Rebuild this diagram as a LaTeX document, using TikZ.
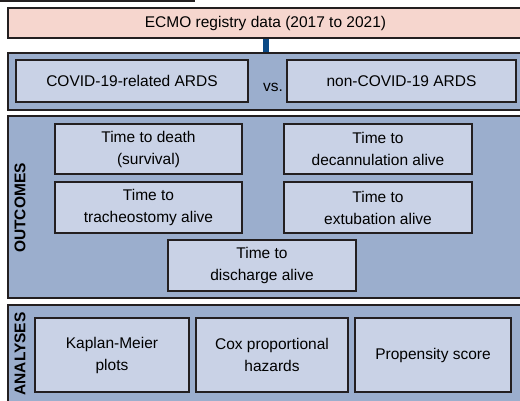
\documentclass[tikz,border=0pt]{standalone}
\usepackage{fontspec}
\setmainfont{Liberation Sans}
\usetikzlibrary{positioning}
\definecolor{pinkfill}{HTML}{F6D6CE}
\definecolor{outerblue}{HTML}{9BAECD}
\definecolor{innerblue}{HTML}{C9D2E6}
\definecolor{edge}{HTML}{231F20}
\definecolor{barblue}{HTML}{0B4A86}

\begin{document}
\begin{tikzpicture}[x=1pt, y=-1pt,
    src/.style={draw=edge, fill=pinkfill, line width=1.5pt, minimum width=515pt, minimum height=30pt, inner sep=0pt},
    outer/.style={draw=edge, fill=outerblue, line width=2pt, minimum width=515pt, inner sep=0pt},
    inner/.style={draw=edge, fill=innerblue, line width=1.5pt, align=center, inner sep=0pt},
    side/.style={rotate=90, font=\fontsize{15.5}{18}\selectfont\bfseries},
    link/.style={draw=barblue, line width=6pt},
    every node/.style={font=\fontsize{15.5}{22}\selectfont}
    ]
\useasboundingbox (0,0) rectangle (520,400);
\clip (0,0) rectangle (520,400);

\draw[edge, line width=1.5pt] (0,1)--(195,1);

\node[src] (ecmo) at (265.5,23) {ECMO registry data (2017 to 2021)};

% groups
\node[outer, minimum height=57pt] (groups) at (265.5,81.5) {};
\node[inner, minimum width=232pt, minimum height=42pt] (covid) at (132,81) {COVID-19-related ARDS};
\node (vs) at (273,87) {vs.};
\node[inner, minimum width=229pt, minimum height=42pt] (noncovid) at (401.5,81) {non-COVID-19 ARDS};

\draw[link] (ecmo.south)--(groups.north);

% outcomes
\node[outer, minimum height=182pt] (outcomes) at (265.5,207) {};
\node[side] (outlabel) at (20,208) {OUTCOMES};
\node[inner, minimum width=187pt, minimum height=50pt] (death) at (148.5,149) {Time to death\\(survival)};
\node[inner, minimum width=187pt, minimum height=51pt] (trach) at (148.5,207.5) {Time to\\tracheostomy alive};
\node[inner, minimum width=188pt, minimum height=50pt] (decann) at (378,149) {Time to\\decannulation alive};
\node[inner, minimum width=188pt, minimum height=51pt] (extub) at (378,207.5) {Time to\\extubation alive};
\node[inner, minimum width=188pt, minimum height=51pt] (discharge) at (262,265.5) {Time to\\discharge alive};

% analyses
\node[outer, minimum height=105pt] (analyses) at (265.5,357.5) {};
\node[side] (analabel) at (20,354) {ANALYSES};
\node[inner, minimum width=154pt, minimum height=74pt] (kaplan) at (112,355) {Kaplan-Meier\\plots};
\node[inner, minimum width=152pt, minimum height=74pt] (cox) at (272,355) {Cox proportional\\hazards};
\node[inner, minimum width=156pt, minimum height=74pt] (propensity) at (433,355) {Propensity score};

\end{tikzpicture}
\end{document}
